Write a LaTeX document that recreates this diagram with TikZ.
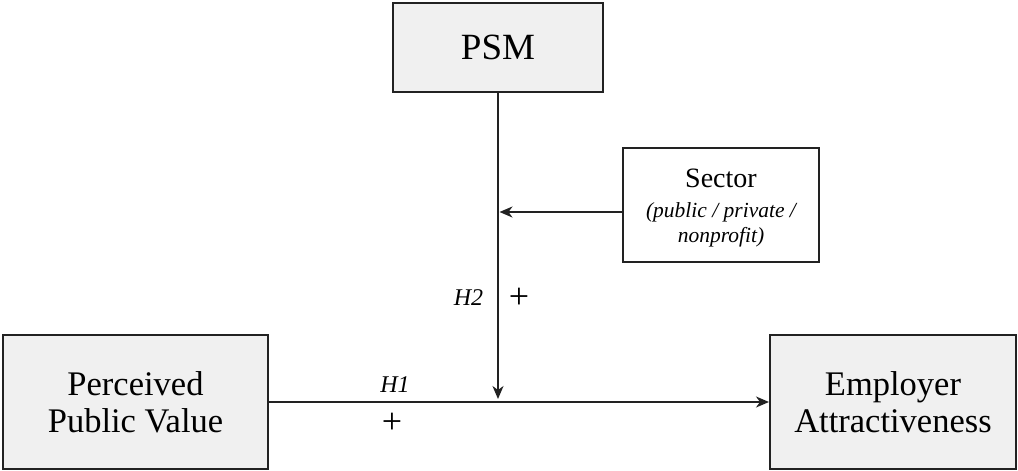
\documentclass[tikz,border=0pt]{standalone}
\usepackage{fontspec}
\setmainfont{Liberation Serif}
\usetikzlibrary{arrows.meta}
\definecolor{boxfill}{HTML}{F0F0F0}
\definecolor{linec}{HTML}{222222}
\begin{document}
\begin{tikzpicture}[x=1pt,y=-1pt,
  varbox/.style={draw=linec,line width=2pt,fill=boxfill,inner sep=0pt,align=center},
  modbox/.style={draw=linec,line width=2pt,fill=white,inner sep=0pt,align=center},
  conn/.style={draw=linec,line width=1.4pt,-{Stealth[length=13pt,width=11pt,inset=4pt]}},
  lbl/.style={inner sep=0pt,font=\fontsize{24}{26}\selectfont\itshape},
  plus/.style={inner sep=0pt,font=\fontsize{36}{38}\selectfont}]
\useasboundingbox (0,0) rectangle (1018,471);
\node[varbox,minimum width=210pt,minimum height=89pt,font=\fontsize{37}{42}\selectfont] (psm) at (498,47.5) {PSM};
\node[varbox,minimum width=265pt,minimum height=134pt,font=\fontsize{34.5}{37}\selectfont] (ppv) at (135.5,402) {Perceived\\Public Value};
\node[varbox,minimum width=246pt,minimum height=134pt,font=\fontsize{34.5}{37}\selectfont] (ea) at (893,402) {Employer\\Attractiveness};
\node[modbox,minimum width=196pt,minimum height=114pt] (sec) at (721,205) {};
\node[inner sep=0pt,anchor=base,font=\fontsize{28}{30}\selectfont] (sectxt) at (721,187) {Sector};
\node[inner sep=0pt,anchor=base,font=\fontsize{21.5}{25}\selectfont\itshape] (sectxt2) at (721,217) {(public / private /};
\node[inner sep=0pt,anchor=base,font=\fontsize{21.5}{25}\selectfont\itshape] (sectxt3) at (721,242) {nonprofit)};
\coordinate (mod) at (499.5,212);
\coordinate (hit) at (498,399);
\draw[conn] (sec.west |- mod) -- (mod);
\draw[conn] (psm.south) -- (hit);
\draw[conn] (ppv.east) -- (ea.west);
\node[lbl] (h2) at (468.5,298) {H2};
\node[plus] (p2) at (519,298) {+};
\node[lbl] (h1) at (395,385) {H1};
\node[plus] (p1) at (392,423) {+};
\end{tikzpicture}
\end{document}
